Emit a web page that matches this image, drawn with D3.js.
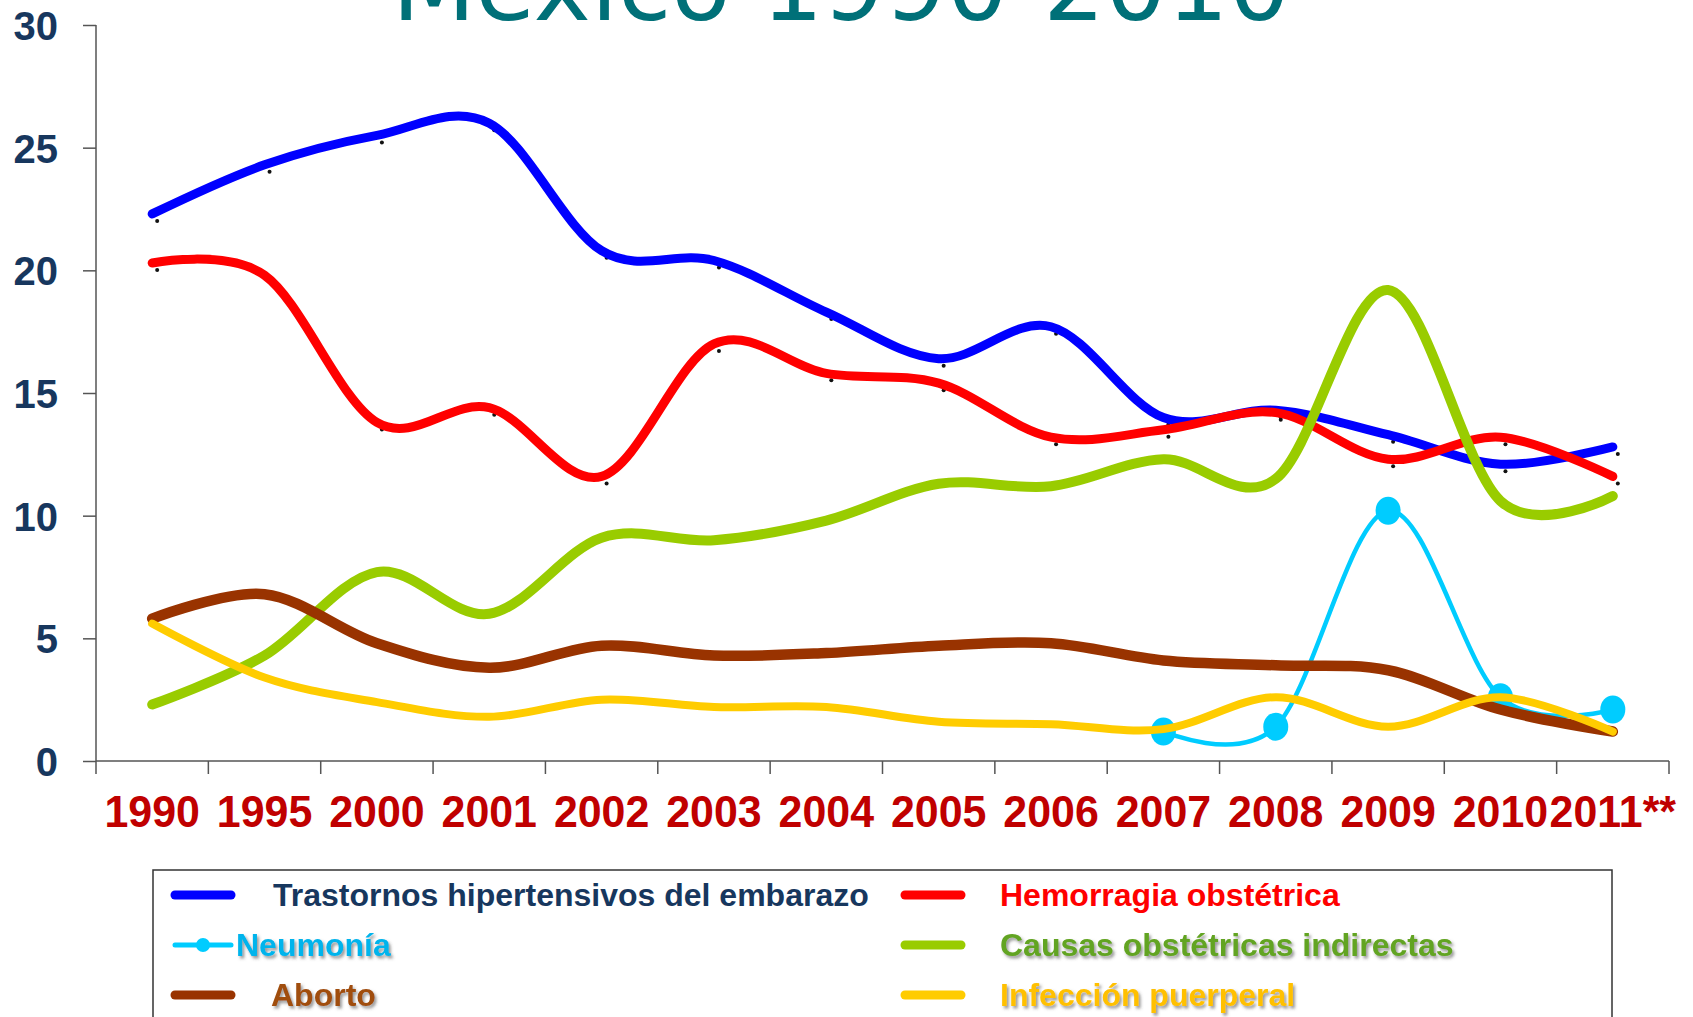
<!DOCTYPE html>
<head>
<meta charset="utf-8">
<script src="https://d3js.org/d3.v7.min.js"></script>
</head>
<style>
body { margin: 0; background: #fff; }
svg { display: block; }
.ylab text { font-family: "Liberation Sans", Arial, sans-serif; font-weight: bold; font-size: 40px; fill: #17375e; }
.xlab text { font-family: "Liberation Sans", Arial, sans-serif; font-weight: bold; font-size: 44px; fill: #c00000; }
.axis line, .axis path { stroke: #555; stroke-width: 1.5px; }
.serie { fill: none; stroke-linecap: round; stroke-linejoin: round; }
.leg text { font-family: "Liberation Sans", Arial, sans-serif; font-weight: bold; font-size: 32px; }
</style>
<body>
<script>
// años (categorías del eje x)
var years = ["1990", "1995", "2000", "2001", "2002", "2003", "2004", "2005", "2006", "2007", "2008", "2009", "2010", "2011**"];

// series
var trastornos = [22.3, 24.3, 25.5, 26.0, 20.8, 20.4, 18.3, 16.4, 17.7, 14.0, 14.3, 13.3, 12.1, 12.8];
var hemorragia = [20.3, 19.8, 13.8, 14.4, 11.6, 17.0, 15.8, 15.4, 13.2, 13.5, 14.2, 12.3, 13.2, 11.6];
var neumonia   = [null, null, null, null, null, null, null, null, null, 1.2, 1.4, 10.2, 2.6, 2.1];
var causas     = [2.3, 4.3, 7.7, 6.0, 9.1, 9.0, 9.8, 11.3, 11.2, 12.3, 11.5, 19.2, 10.6, 10.8];
var aborto     = [5.8, 6.8, 4.8, 3.8, 4.7, 4.3, 4.4, 4.7, 4.8, 4.1, 3.9, 3.7, 2.1, 1.2];
var infeccion  = [5.6, 3.4, 2.4, 1.8, 2.5, 2.2, 2.2, 1.6, 1.5, 1.3, 2.6, 1.4, 2.6, 1.2];

var seriesNames = ["Trastornos hipertensivos del embarazo", "Hemorragia obstétrica", "Neumonía",
                   "Causas obstétricas indirectas", "Aborto", "Infección puerperal"];
var yTicks = [0, 5, 10, 15, 20, 25, 30];
var title = "México 1990-2010";

var W = 1693, H = 1017;
var svg = d3.select("body").append("svg").attr("width", W).attr("height", H);

var defs = svg.append("defs");
var f = defs.append("filter").attr("id", "sh").attr("x", "-10%").attr("y", "-20%").attr("width", "130%").attr("height", "150%");
f.append("feDropShadow").attr("dx", 2).attr("dy", 2.5).attr("stdDeviation", 1.5)
  .attr("flood-color", "#444").attr("flood-opacity", 0.55);

var x = d3.scaleBand().domain(years).range([96, 1669]);
var y = d3.scaleLinear().domain([0, 30]).range([761, 25]);
function cx(i) { return x(years[i]) + x.bandwidth() / 2; }

// título (recortado arriba como en el original)
svg.append("text")
    .attr("x", 841).attr("y", 20)
    .attr("text-anchor", "middle")
    .style("font-family", "'DejaVu Sans', Verdana, sans-serif")
    .style("font-size", "97px")
    .style("fill", "#007078")
    .text(title);

// eje y
var gy = svg.append("g").attr("class", "axis ylab")
    .attr("transform", "translate(96,0)")
    .call(d3.axisLeft(y).tickValues(yTicks).tickSize(13).tickSizeOuter(0).tickPadding(25));
gy.select(".domain").attr("d", "M0," + y(30) + "V" + y(0));
gy.selectAll("text").attr("dy", "0.36em");

// eje x: etiquetas centradas en cada banda, marcas en los bordes
var gx = svg.append("g").attr("class", "axis xlab")
    .attr("transform", "translate(0,761)")
    .call(d3.axisBottom(x).tickSize(0).tickSizeOuter(0));
gx.select(".domain").attr("d", "M96,0H1669");
gx.selectAll("text").attr("y", 66).attr("dy", null).attr("x", 0)
  .attr("transform", "scale(0.975,1)");
gx.selectAll(".tmark").data(years.concat(["end"])).enter().append("line")
    .attr("class", "tmark")
    .attr("x1", function(d) { return d === "end" ? x.range()[1] : x(d); })
    .attr("x2", function(d) { return d === "end" ? x.range()[1] : x(d); })
    .attr("y1", 0).attr("y2", 13);

var curve = d3.curveCardinal.tension(0);
var line = d3.line()
    .defined(function(d) { return d != null; })
    .x(function(d, i) { return cx(i); })
    .y(function(d) { return y(d); })
    .curve(curve);

var series = [
  { vals: trastornos, color: "#0000ff", w: 9 },
  { vals: hemorragia, color: "#ff0000", w: 9 },
  { vals: neumonia,   color: "#00ccff", w: 4.5 },
  { vals: causas,     color: "#99cc00", w: 10 },
  { vals: aborto,     color: "#993300", w: 10.5 },
  { vals: infeccion,  color: "#ffcc00", w: 8 }
];

// pequeños puntos negros de los marcadores (desplazados bajo la línea)
[trastornos, hemorragia].forEach(function(vals) {
  svg.append("g").selectAll("circle").data(vals).enter().append("circle")
      .attr("cx", function(d, i) { return cx(i) + 5; })
      .attr("cy", function(d) { return y(d) + 7; })
      .attr("r", 2).attr("fill", "#111");
});

series.forEach(function(s, k) {
  svg.append("path").datum(s.vals)
      .attr("class", "serie")
      .attr("stroke", s.color)
      .attr("stroke-width", s.w)
      .attr("d", line);
  if (k === 2) {
    svg.append("g").selectAll("ellipse")
      .data(s.vals.map(function(v, i) { return { v: v, i: i }; }).filter(function(d) { return d.v != null; }))
      .enter().append("ellipse")
      .attr("cx", function(d) { return cx(d.i); })
      .attr("cy", function(d) { return y(d.v); })
      .attr("rx", 12.5).attr("ry", 14)
      .attr("fill", "#00ccff");
  }
});

// leyenda
var leg = svg.append("g").attr("class", "leg");
leg.append("rect").attr("x", 153).attr("y", 870).attr("width", 1459).attr("height", 170)
    .attr("fill", "none").attr("stroke", "#333").attr("stroke-width", 1.5);

var legText = [
  { fill: "#17375e", shadow: false, dx: 273 },
  { fill: "#ff0000", shadow: false, dx: 1000 },
  { fill: "#00b4ec", shadow: true,  dx: 236 },
  { fill: "#62a420", shadow: true,  dx: 1000 },
  { fill: "#a04d0c", shadow: true,  dx: 271 },
  { fill: "#ffc000", shadow: true,  dx: 1000 }
];

seriesNames.forEach(function(name, k) {
  var col = k % 2, row = Math.floor(k / 2);
  var x1 = col === 0 ? 175 : 905;
  var yc = 895 + row * 50;
  var s = series[k];
  leg.append("line")
      .attr("x1", x1).attr("x2", x1 + 56)
      .attr("y1", yc).attr("y2", yc)
      .attr("stroke", s.color)
      .attr("stroke-width", k === 2 ? 5 : 9)
      .attr("stroke-linecap", "round");
  if (k === 2) {
    leg.append("circle").attr("cx", x1 + 28).attr("cy", yc).attr("r", 7).attr("fill", s.color);
  }
  var t = leg.append("text")
      .attr("x", legText[k].dx).attr("y", yc + 11)
      .attr("fill", legText[k].fill)
      .text(name);
  if (legText[k].shadow) t.attr("filter", "url(#sh)");
});
</script>
</body>
